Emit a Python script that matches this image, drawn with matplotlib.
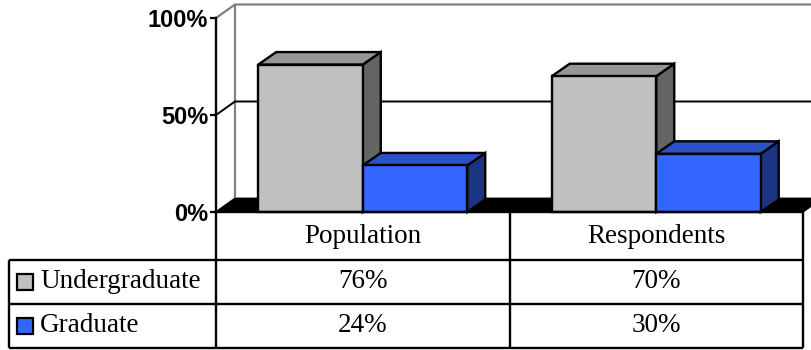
import numpy as np
import matplotlib
matplotlib.use('Agg')
import matplotlib.pyplot as plt
from matplotlib.patches import Polygon
from matplotlib.ticker import PercentFormatter

# data
categories = ['Population', 'Respondents']
series = ['Undergraduate', 'Graduate']
undergrad = [76, 70]
graduate = [24, 30]
values = [undergrad, graduate]

front_colors = ['#c0c0c0', '#3366ff']
top_colors = ['#969696', '#2a52c4']
side_colors = ['#646464', '#1c3583']

W, H = 811, 350
fig = plt.figure(figsize=(W / 100, H / 100), dpi=100)


def px_axes(x0, y0, x1, y1):
    # axes placed by pixel box (top-left origin)
    return fig.add_axes([x0 / W, 1 - y1 / H, (x1 - x0) / W, (y1 - y0) / H])


ax = px_axes(216, 18, 803, 212)
ax.set_xlim(0, len(categories))
ax.set_ylim(0, 100)
ax.patch.set_visible(False)

tab = px_axes(9, 212, 803, 348)
cat_px = (803 - 216) / len(categories)
tab.set_xlim(-(216 - 9) / cat_px, len(categories))
tab.set_ylim(136, 0)
tab.axis('off')


def shift(x, y, dx, dy):
    # move a data point by a pixel offset (depth direction)
    d = ax.transData.transform((x, y))
    return tuple(ax.transData.inverted().transform((d[0] + dx, d[1] + dy)))


wall_d = (19, 13.5)
bar_d = (18, 12.5)
n = len(categories)

# back wall and side wall
wall = Polygon([shift(0, 0, *wall_d), shift(n, 0, *wall_d), shift(n, 100, *wall_d),
                shift(0, 100, *wall_d)], closed=True, fc='white', ec='none',
               clip_on=False, zorder=1)
ax.add_patch(wall)
gray = '#808080'
for pts in ([(0, 100), shift(0, 100, *wall_d), shift(n, 100, *wall_d)],
            [shift(0, 0, *wall_d), shift(0, 100, *wall_d)],
            [(0, 0), shift(0, 0, *wall_d), shift(n, 0, *wall_d)]):
    xs, ys = zip(*pts)
    ax.plot(xs, ys, color=gray, lw=1.6, clip_on=False, zorder=2,
            solid_capstyle='butt')

# 50% gridline
xs, ys = zip(*[(0, 50), shift(0, 50, *wall_d), shift(n, 50, *wall_d)])
ax.plot(xs, ys, color='black', lw=1.4, clip_on=False, zorder=2)

# floor
floor = Polygon([(0, 0), (n, 0), shift(n, 0, *wall_d), shift(0, 0, *wall_d)],
                closed=True, fc='black', ec='black', lw=1, clip_on=False, zorder=3)
ax.add_patch(floor)

# 3d bars
gap = 0.144
bw = (1 - 2 * gap) / len(series)
z = 4
for i in range(n):
    for j in range(len(series)):
        h = values[j][i]
        x0 = i + gap + j * bw
        x1 = x0 + bw
        side = Polygon([(x1, 0), shift(x1, 0, *bar_d), shift(x1, h, *bar_d), (x1, h)],
                       closed=True, fc=side_colors[j], ec='black', lw=1.7,
                       joinstyle='miter', clip_on=False, zorder=z)
        top = Polygon([(x0, h), (x1, h), shift(x1, h, *bar_d), shift(x0, h, *bar_d)],
                      closed=True, fc=top_colors[j], ec='black', lw=1.7,
                      joinstyle='miter', clip_on=False, zorder=z)
        ax.add_patch(side)
        ax.add_patch(top)
        ax.bar(x0, h, width=bw, align='edge', color=front_colors[j],
               edgecolor='black', linewidth=1.7, zorder=z + 0.5, clip_on=False)
        z += 1

# axis
for s in ['top', 'right', 'bottom']:
    ax.spines[s].set_visible(False)
ax.spines['left'].set_linewidth(1.7)
ax.spines['left'].set_zorder(20)
ax.set_xticks([])
ax.set_yticks([0, 50, 100])
ax.yaxis.set_major_formatter(PercentFormatter(decimals=0))
ax.tick_params(axis='y', length=4, width=1.6, pad=1.5)
for lab in ax.get_yticklabels():
    lab.set_fontfamily('Liberation Sans')
    lab.set_fontweight('bold')
    lab.set_fontsize(17)

# data table
xl = tab.get_xlim()[0]
row_edges = [0, 48, 92, 136]
lw = 1.7
tab.hlines(0, 0, n, color='black', lw=lw, clip_on=False)
tab.hlines(row_edges[1:], xl, n, color='black', lw=lw, clip_on=False)
tab.vlines(range(n + 1), 0, 136, color='black', lw=lw, clip_on=False)
tab.vlines(xl, row_edges[1], 136, color='black', lw=lw, clip_on=False)

serif = 'Liberation Serif'
fs = 19.5
for i, c in enumerate(categories):
    tab.text(i + 0.5, (row_edges[0] + row_edges[1]) / 2, c, ha='center', va='center',
             fontsize=fs, family=serif)
for j, name in enumerate(series):
    yc = (row_edges[j + 1] + row_edges[j + 2]) / 2
    tab.plot([xl + 16 / cat_px], [yc], marker='s', ms=11, mfc=front_colors[j],
             mec='black', mew=1.6, clip_on=False)
    tab.text(xl + 31 / cat_px, yc, name, ha='left', va='center', fontsize=fs,
             family=serif)
    for i in range(n):
        tab.text(i + 0.5, yc, f'{values[j][i]}%', ha='center', va='center',
                 fontsize=fs, family=serif)

fig.savefig('out.png', dpi=100)
